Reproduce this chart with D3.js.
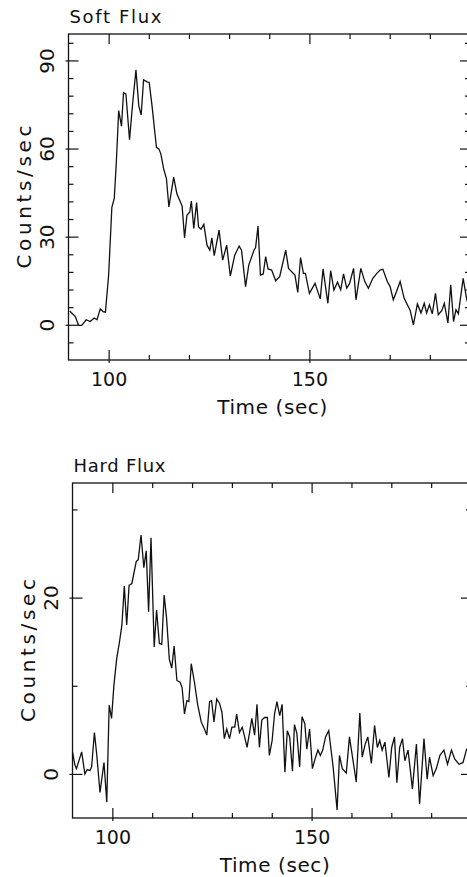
<!DOCTYPE html>
<html>
<head>
<meta charset="utf-8">
<script src="https://cdn.jsdelivr.net/npm/d3@7"></script>
<style>
	body { margin: 0; background: #fff; }
	svg { display: block; }
	text { font-family: "DejaVu Sans", sans-serif; fill: #111; }
</style>
</head>
<body>
<script>
// soft flux light curve (time in sec, counts/sec)
var softTime = [90.3, 91.7, 92.5, 93.3, 94.4, 95.4, 96.4, 97.1, 97.9, 98.6, 99.2,
	100.0, 100.8, 101.4, 101.9, 102.5, 103.2, 103.7, 104.3, 105.2, 106.0, 106.8, 107.5, 108.1, 108.7, 109.6,
	110.1, 110.8, 111.9, 112.5, 113.0, 113.7, 114.4, 115.0, 116.2, 117.0, 118.3, 118.9, 119.5,
	120.2, 120.6, 121.2, 121.9, 122.4, 123.0, 123.7, 124.5, 125.2, 125.7, 126.3, 127.5, 128.4, 129.4,
	130.3, 131.4, 132.5, 133.1, 134.1, 134.9, 136.2, 136.6, 137.2, 137.8, 138.5, 139.1, 139.7,
	140.6, 141.6, 142.6, 144.1, 144.8, 146.4, 147.1, 147.8, 148.5, 149.0, 150.0,
	151.4, 152.7, 153.4, 154.6, 155.3, 156.1, 157.0, 157.8, 158.5, 159.3, 160.0,
	161.0, 161.6, 162.8, 163.8, 164.7, 165.8, 166.8, 167.6, 168.3, 169.4, 170.1,
	170.9, 171.7, 172.6, 173.6, 174.4, 175.1, 175.9, 176.9, 177.8, 178.6, 179.2, 179.9,
	180.6, 181.4, 182.1, 183.0, 183.6, 184.5, 185.2, 185.9, 186.5, 187.1, 188.3, 189.2, 189.9];
var softCounts = [4.7, 2.8, -0.2, -0.2, 1.7, 1.1, 2.3, 1.7, 5.4, 4.5, 4.3,
	17, 40, 43, 55, 72.9, 67.6, 79, 78.5, 63, 75.7, 86.8, 74.6, 71.4, 83.4, 82.7,
	82.5, 74.6, 60.4, 59.9, 58.2, 53.1, 49.7, 40.1, 50.3, 44.6, 40.4, 29.6, 37.3,
	38.4, 42.1, 32.8, 41.6, 33.3, 32.5, 34.2, 27.1, 25.4, 29.6, 23.5, 32.2, 22, 27.1,
	16.6, 23.7, 26.8, 25.4, 13, 20.3, 25.4, 26.3, 33.6, 16.9, 17.3, 23.2, 19,
	18.6, 15, 16.4, 25.4, 19.2, 16.9, 11, 22.9, 17.5, 17.5, 10.7,
	14.1, 8.8, 19, 7.3, 18.4, 11.8, 14.5, 11.9, 17.3, 12.5, 14,
	19.2, 8.5, 19.2, 14.7, 12.4, 15.8, 17.5, 18.6, 18.9, 14.7, 13,
	8.5, 11.3, 14.7, 9, 6.8, 4.9, 0, 7.1, 4, 7.3, 4, 6.8,
	3.7, 10.7, 3.4, 4.9, 7.3, 0.6, 13.6, 1.1, 5.1, 3.7, 15.8, 8.5, 6];

// hard flux light curve
var hardTime = [90.0, 90.6, 91.0, 92.3, 93.1, 93.7, 94.4, 94.8, 95.5, 96.1, 96.9, 97.9, 98.6, 99.2, 99.8,
	100.4, 101.1, 101.8, 102.4, 103.0, 103.6, 104.2, 104.9, 106.0, 106.5, 107.2, 107.9, 108.5, 109.1, 109.7,
	110.5, 111.1, 111.8, 112.4, 113.0, 113.6, 114.3, 114.9, 115.5, 116.2, 117.0, 117.5, 118.1, 118.7, 119.2, 119.8,
	120.6, 121.4, 122.3, 123.1, 123.7, 124.4, 124.9, 125.5, 126.2, 126.9, 127.5, 128.1, 128.7, 129.4,
	130.0, 130.7, 131.2, 131.9, 132.6, 133.2, 133.8, 134.4, 135.0, 135.7, 136.3, 136.9, 137.5, 138.2, 138.9, 139.4,
	140.1, 140.7, 141.3, 142.0, 142.6, 143.3, 143.9, 144.5, 145.2, 145.7, 146.3, 147.0, 147.6, 148.3, 148.8, 149.5,
	150.2, 151.0, 151.6, 152.2, 152.8, 153.5, 154.3, 155.4, 156.4, 157.0, 157.7, 158.7, 159.5,
	160.4, 161.2, 162.1, 162.7, 163.4, 164.1, 165.0, 165.8, 166.5, 167.1, 167.7, 168.4, 169.4,
	170.1, 170.8, 171.4, 172.1, 172.8, 173.4, 174.2, 175.3, 176.3, 177.1, 178.2, 179.0, 179.6,
	180.5, 181.3, 182.2, 183.2, 184.1, 185.1, 185.9, 187.0, 188.0, 188.9, 189.9];
var hardCounts = [2.5, 1.0, 0.6, 2.5, 0, 0.5, 0.4, 0.8, 4.7, 2.1, -2.1, 1.3, -3.2, 7.8, 6.3,
	10.1, 13.1, 15, 16.9, 21.3, 16.9, 21.4, 21.6, 24.1, 24.3, 27.1, 23.4, 25.3, 18.4, 26.8,
	14.4, 18.6, 14.8, 14.7, 20.3, 17.7, 13, 12, 14.5, 10.6, 10.4, 9.8, 6.8, 8.3, 8.2, 12.5,
	10.4, 7.9, 5.9, 5.1, 4.4, 8.2, 8.3, 5.9, 8.5, 8, 7, 4, 5.1, 4,
	5.3, 5.3, 6.8, 4.7, 5.3, 4.2, 3, 4.6, 6.3, 4.4, 7.9, 3, 6.1, 6.4, 6.4, 2.1,
	3.8, 6.8, 8.2, 6.6, 7.9, 0.2, 4.9, 4.2, 0.3, 5.6, 4.6, 0.8, 6.5, 5.7, 2.8, 5.1,
	0.6, 1.9, 2.7, 2.1, 2.7, 4.2, 4.9, 0.8, -4.1, 2.1, 0.6, 0.1, 4.2,
	1.5, -0.9, 6.9, 1.9, 3.3, 4.2, 1.2, 5.5, 3, 3.8, 2.7, 3.6, -0.4,
	3, 4.2, -1, 3, 4, 1.5, 2.7, -1.7, 3.4, -3.4, 4, -0.6, 1.9,
	-0.2, 0.6, 2.1, 2.7, 1.1, 2.7, 1.7, 1.1, 1.3, 2.8, 3];

// tick values
var timeMajor = [100, 150];
var timeMinor = [110, 120, 130, 140, 160, 170, 180];
var softMajor = [0, 30, 60, 90];
var softMinor = [-6, 6, 12, 18, 24, 36, 42, 48, 54, 66, 72, 78, 84, 96];
var hardMajor = [0, 20];
var hardMinor = [10, 30];

var width = 467,
	height = 877;

var svg = d3.select("body")
	.append("svg")
	.attr("width", width)
	.attr("height", height);

drawPanel({
	title: "Soft Flux", titleLength: 92, titleY: 23,
	left: 68.5, right: 470, top: 34, bottom: 360,
	yDomain: [-12, 99], yMajor: softMajor, yMinor: softMinor,
	time: softTime, counts: softCounts
});

drawPanel({
	title: "Hard Flux", titleLength: 92, titleY: 472,
	left: 72.5, right: 471, top: 483, bottom: 818,
	yDomain: [-5, 33], yMajor: hardMajor, yMinor: hardMinor,
	time: hardTime, counts: hardCounts
});

function drawPanel(cfg){
	var g = svg.append("g");

	var x = d3.scaleLinear()
		.domain([90, 190])
		.range([cfg.left, cfg.right]);

	var y = d3.scaleLinear()
		.domain(cfg.yDomain)
		.range([cfg.bottom, cfg.top]);

	// frame
	g.append("rect")
		.attr("x", cfg.left)
		.attr("y", cfg.top)
		.attr("width", cfg.right - cfg.left)
		.attr("height", cfg.bottom - cfg.top)
		.attr("fill", "none")
		.attr("stroke", "#111")
		.attr("stroke-width", 1.3);

	// bottom axis
	addAxis(d3.axisBottom(x).tickValues(timeMinor).tickSize(-5), "translate(0," + cfg.bottom + ")", false);
	var bx = addAxis(d3.axisBottom(x).tickValues(timeMajor).tickSizeInner(-10).tickPadding(13)
		.tickFormat(d3.format("d")), "translate(0," + cfg.bottom + ")", true);
	bx.selectAll(".tick line").attr("y1", 3);
	bx.selectAll(".tick text").attr("font-size", 19);

	// top axis
	addAxis(d3.axisTop(x).tickValues(timeMinor).tickSize(-5), "translate(0," + cfg.top + ")", false);
	addAxis(d3.axisTop(x).tickValues(timeMajor).tickSize(-10), "translate(0," + cfg.top + ")", false);

	// left axis
	addAxis(d3.axisLeft(y).tickValues(cfg.yMinor).tickSize(-5), "translate(" + cfg.left + ",0)", false);
	var ly = addAxis(d3.axisLeft(y).tickValues(cfg.yMajor).tickSize(-10)
		.tickFormat(d3.format("d")), "translate(" + cfg.left + ",0)", true);
	ly.selectAll(".tick line").attr("x1", -3);
	ly.selectAll(".tick text")
		.attr("transform", "rotate(-90)")
		.attr("x", 0)
		.attr("y", -15)
		.attr("dy", 0)
		.attr("text-anchor", "middle")
		.attr("font-size", 20);

	// right axis
	addAxis(d3.axisRight(y).tickValues(cfg.yMinor).tickSize(-5), "translate(" + cfg.right + ",0)", false);
	addAxis(d3.axisRight(y).tickValues(cfg.yMajor).tickSize(-10), "translate(" + cfg.right + ",0)", false);

	// light curve
	var line = d3.line()
		.x(function(d, i){ return x(cfg.time[i]); })
		.y(function(d){ return y(d); });

	g.append("path")
		.datum(cfg.counts)
		.attr("d", line)
		.attr("fill", "none")
		.attr("stroke", "#111")
		.attr("stroke-width", 1.3)
		.attr("stroke-linejoin", "miter");

	// titles and axis labels
	g.append("text")
		.attr("x", cfg.left + 1)
		.attr("y", cfg.titleY)
		.attr("font-size", 18)
		.attr("textLength", cfg.titleLength)
		.attr("lengthAdjust", "spacing")
		.text(cfg.title);

	g.append("text")
		.attr("x", (cfg.left + cfg.right) / 2 + 3)
		.attr("y", cfg.bottom + 54)
		.attr("text-anchor", "middle")
		.attr("font-size", 20)
		.attr("textLength", 110)
		.attr("lengthAdjust", "spacing")
		.text("Time (sec)");

	g.append("text")
		.attr("transform", "translate(" + (cfg.left - 38) + "," + ((cfg.top + cfg.bottom) / 2) + ") rotate(-90)")
		.attr("text-anchor", "middle")
		.attr("font-size", 20)
		.attr("textLength", 143)
		.attr("lengthAdjust", "spacing")
		.text("Counts/sec");

	function addAxis(axis, transform, labelled){
		var a = g.append("g")
			.attr("transform", transform)
			.call(axis.tickSizeOuter(0));
		a.select(".domain").remove();
		a.selectAll(".tick line").attr("stroke", "#111").attr("stroke-width", 1.2);
		if (!labelled) a.selectAll(".tick text").remove();
		return a;
	}
}
</script>
</body>
</html>
